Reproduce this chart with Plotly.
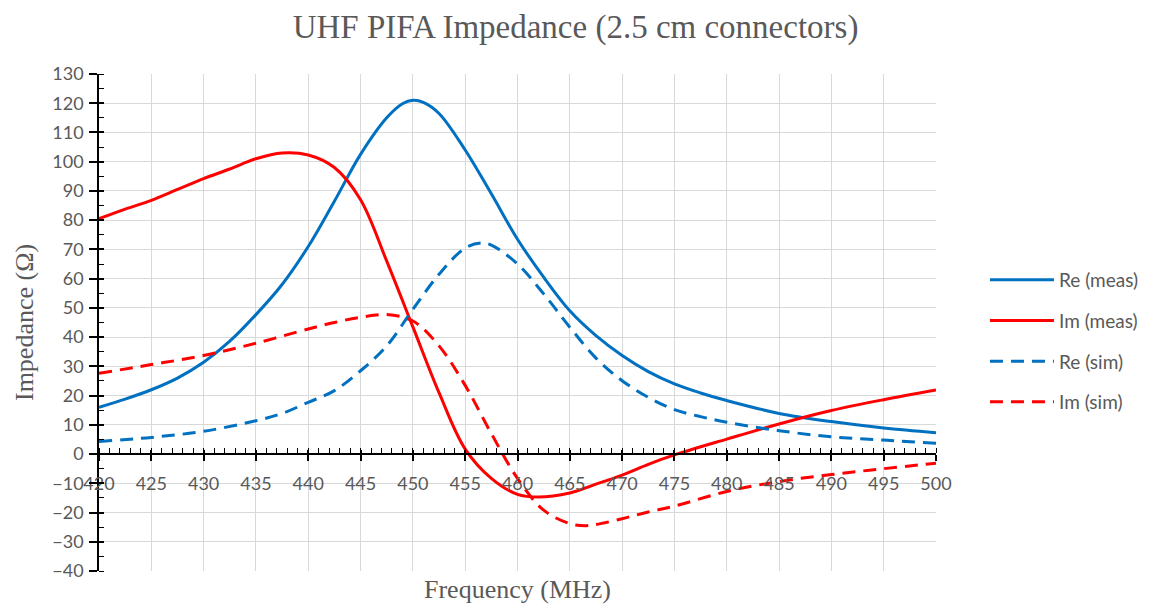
import plotly.graph_objects as go

# ---- data ----
f_re_meas = [420, 422.5, 425, 427.5, 430, 432.5, 435, 437.5, 440, 442.5, 445, 447.5, 449, 450, 451,
             452.5, 455, 457.5, 460, 462.5, 465, 467.5, 470, 472.5, 475, 477.5, 480, 485, 490, 495, 500]
re_meas = [16.0, 18.8, 22.0, 26.0, 31.4, 38.6, 47.7, 58.0, 71.0, 86.5, 102.5, 115.0, 119.8, 121.0, 120.3,
           116.5, 104.0, 89.0, 73.5, 60.5, 49.0, 40.5, 33.7, 28.2, 24.0, 20.9, 18.3, 13.9, 11.1, 8.9, 7.3]

f_im_meas = [420, 422.5, 425, 427.5, 430, 432.5, 435, 437.5, 440, 442.5, 445, 447.5, 450, 452.5, 455,
             457.5, 460, 462, 465, 467.5, 470, 472.5, 475, 480, 485, 490, 495, 500]
im_meas = [80.5, 83.8, 86.8, 90.5, 94.2, 97.5, 101.0, 103.0, 102.3, 98.0, 87.0, 66.0, 43.5, 21.0, 1.7,
           -8.3, -13.8, -14.7, -13.3, -10.3, -7.2, -3.5, -0.3, 5.1, 10.3, 14.9, 18.6, 21.9]

f_re_sim = [420, 425, 430, 435, 437.5, 440, 442.5, 445, 447.5, 450, 452.5, 455, 456.5, 457.5, 460,
            462.5, 465, 467.5, 470, 472.5, 475, 477.5, 480, 485, 490, 495, 500]
re_sim = [4.3, 5.7, 7.8, 11.4, 13.9, 17.7, 21.7, 28.5, 37.0, 49.5, 61.5, 70.5, 72.2, 71.5, 65.0,
          54.8, 43.4, 32.8, 25.1, 19.4, 15.2, 12.8, 10.9, 8.0, 5.9, 4.8, 3.7]

f_im_sim = [420, 425, 430, 435, 440, 442.5, 445, 447.5, 450, 452.5, 455, 457.5, 460, 462.5, 465,
            466.5, 467.5, 470, 472.5, 475, 480, 485, 490, 495, 500]
im_sim = [27.6, 30.6, 33.7, 37.9, 42.8, 45.0, 46.8, 47.7, 45.5, 37.0, 23.5, 7.0, -8.3, -19.2, -23.8,
          -24.5, -24.1, -22.1, -19.8, -17.8, -12.8, -9.4, -7.0, -5.0, -3.1]

names = ["Re (meas)", "Im (meas)", "Re (sim)", "Im (sim)"]
title_text = "UHF PIFA Impedance (2.5 cm connectors)"
x_title = "Frequency (MHz)"
y_title = "Impedance (Ω)"

BLUE = "#0070C0"
RED = "#FF0000"
GRAY = "#595959"
GRID = "#D9D9D9"
TICKFONT = dict(family="Lato", size=18, color=GRAY)

fig = go.Figure()
series = [
    (f_re_meas, re_meas, names[0], BLUE, "solid"),
    (f_im_meas, im_meas, names[1], RED, "solid"),
    (f_re_sim, re_sim, names[2], BLUE, "13px,8px"),
    (f_im_sim, im_sim, names[3], RED, "13px,8px"),
]
for i, (fx, fy, nm, col, dash) in enumerate(series):
    fig.add_trace(go.Scatter(
        x=fx, y=fy, name=nm, mode="lines",
        line=dict(color=col, width=3, dash=dash, shape="spline", smoothing=1.0),
        legendgroup=f"g{i}",
    ))

# invisible carrier trace for the overlay axes (inside half of the cross ticks)
fig.add_trace(go.Scatter(x=f_re_meas, y=re_meas, xaxis="x2", yaxis="y2", mode="lines",
                         opacity=0, showlegend=False, hoverinfo="skip", line=dict(width=0)))

ypos0 = 40 / 170

fig.update_layout(
    width=1158, height=606,
    margin=dict(l=99, r=222, t=74, b=35),
    paper_bgcolor="white", plot_bgcolor="white",
    title=dict(text=title_text, x=0.497, xanchor="center", y=0.957, yanchor="middle",
               font=dict(family="Liberation Serif", size=33, color=GRAY)),
    xaxis=dict(
        range=[420, 500], tick0=420, dtick=5, anchor="free", position=ypos0,
        showgrid=True, gridcolor=GRID, gridwidth=1.3, zeroline=False,
        showline=True, linecolor="black", linewidth=1.5,
        ticks="outside", ticklen=6, tickwidth=1.5, tickcolor="black",
        minor=dict(dtick=1, ticks="inside", ticklen=5, tickwidth=1.2, tickcolor="black", showgrid=False),
        tickfont=TICKFONT, ticklabelstandoff=8,
    ),
    yaxis=dict(
        range=[-40, 130], tick0=0, dtick=10,
        showgrid=True, gridcolor=GRID, gridwidth=1.3, zeroline=False,
        showline=True, linecolor="black", linewidth=1.5,
        ticks="outside", ticklen=8, tickwidth=1.5, tickcolor="black",
        minor=dict(dtick=5, ticks="inside", ticklen=5, tickwidth=1.2, tickcolor="black", showgrid=False),
        tickfont=TICKFONT, ticklabelstandoff=2,
    ),
    xaxis2=dict(
        range=[420, 500], tick0=420, dtick=5, overlaying="x", anchor="free", position=ypos0,
        showgrid=False, zeroline=False, showline=False, showticklabels=False,
        ticks="inside", ticklen=4, tickwidth=1.5, tickcolor="black",
    ),
    yaxis2=dict(
        range=[-40, 130], tick0=0, dtick=10, overlaying="y", anchor="x2", side="left",
        showgrid=False, zeroline=False, showline=False, showticklabels=False,
        ticks="inside", ticklen=5, tickwidth=1.5, tickcolor="black",
    ),
    legend=dict(x=1.0585, xanchor="left", y=0.463, yanchor="middle",
                itemwidth=64, tracegroupgap=13,
                font=dict(family="Lato", size=19, color=GRAY), bgcolor="rgba(0,0,0,0)"),
    showlegend=True,
    annotations=[
        dict(text=x_title, xref="paper", yref="paper", x=0.5, y=-0.038, xanchor="center",
             yanchor="middle", showarrow=False,
             font=dict(family="Liberation Serif", size=26, color=GRAY)),
        dict(text=y_title, xref="paper", yref="paper", x=-0.089, y=0.5, xanchor="center",
             yanchor="middle", showarrow=False, textangle=-90,
             font=dict(family="Liberation Serif", size=26, color=GRAY)),
    ],
)

fig.write_html("out.html")
